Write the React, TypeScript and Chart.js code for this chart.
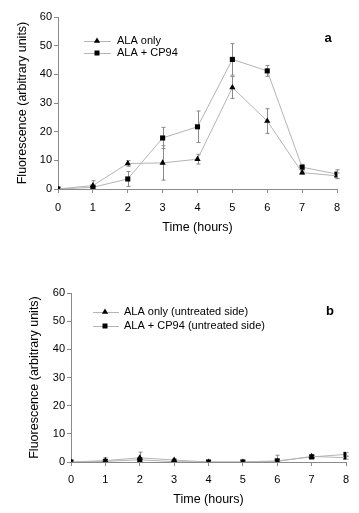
import React, { useEffect, useRef } from "react";
import { Chart, registerables } from "chart.js";

Chart.register(...registerables);

const hours = [0, 1, 2, 3, 4, 5, 6, 7, 8];

// Panel a
const alaOnly = [0, 1.2, 8.9, 9.1, 10.4, 35.4, 23.7, 5.7, 4.6];
const alaOnlyErr = [0, 1.7, 1.0, 6.0, 1.7, 3.8, 4.3, 0.5, 1.0];
const alaCp94 = [0, 0.6, 3.5, 17.8, 21.7, 45.2, 41.2, 7.6, 5.2];
const alaCp94Err = [0, 0.8, 2.6, 3.7, 5.5, 5.5, 1.9, 1.0, 1.5];

// Panel b
const alaOnlyUntreated = [0, 0.5, 1.5, 0.7, 0, 0, 0.2, 2.0, 1.5];
const alaOnlyUntreatedErr = [0, 1.0, 2.0, 0.5, 0, 0, 0.4, 0.5, 0.5];
const alaCp94Untreated = [0, 0.2, 0.8, 0.1, 0, 0, 0.4, 1.8, 2.7];
const alaCp94UntreatedErr = [0, 0.3, 0.8, 0.2, 0, 0, 2.0, 0.4, 0.6];

const yTicks = [0, 10, 20, 30, 40, 50, 60];
const labelsA = ["ALA only", "ALA + CP94"];
const labelsB = ["ALA only (untreated side)", "ALA + CP94 (untreated side)"];

const FONT = "'Liberation Sans', Arial, sans-serif";
const AXIS = "#8a8a8a";
const LINE = "#b4b4b4";

function drawMarker(ctx: CanvasRenderingContext2D, style: string, x: number, y: number) {
  ctx.save();
  ctx.fillStyle = "#000";
  ctx.beginPath();
  if (style === "triangle") {
    const r = 3.6;
    ctx.moveTo(x, y - r);
    ctx.lineTo(x + r * 0.866, y + r * 0.5);
    ctx.lineTo(x - r * 0.866, y + r * 0.5);
    ctx.closePath();
  } else {
    ctx.rect(x - 2.5, y - 2.5, 5, 5);
  }
  ctx.fill();
  ctx.restore();
}

type PanelCfg = {
  series: number[][];
  errs: number[][];
  legend: string[];
  letter: string;
  yAxisWidth: number;
  padRight: number;
  padTop: number;
  xAxisHeight: number;
  yTitlePad: number;
  xTitlePadBottom: number;
  tickPad: number;
  legendLine: [number, number, number, number];
  legendRows: [number, number];
  letterPos: [number, number];
  height: number;
};

function Panel({ cfg }: { cfg: PanelCfg }) {
  const ref = useRef<HTMLCanvasElement | null>(null);
  useEffect(() => {
    if (!ref.current) return;
    const styles = ["triangle", "rect"];
    const errPlugin = {
      id: "errbars",
      beforeDatasetsDraw(chart: any) {
        const ctx = chart.ctx;
        const xs = chart.scales.x;
        const ys = chart.scales.y;
        ctx.save();
        ctx.strokeStyle = AXIS;
        ctx.lineWidth = 1;
        cfg.series.forEach((s, si) => {
          s.forEach((v, i) => {
            const e = cfg.errs[si][i];
            if (!e) return;
            const x = Math.round(xs.getPixelForValue(hours[i])) + 0.5;
            const y1 = ys.getPixelForValue(Math.max(0, v - e));
            const y2 = ys.getPixelForValue(v + e);
            ctx.beginPath();
            ctx.moveTo(x, y1);
            ctx.lineTo(x, y2);
            ctx.moveTo(x - 2, y1);
            ctx.lineTo(x + 2, y1);
            ctx.moveTo(x - 2, y2);
            ctx.lineTo(x + 2, y2);
            ctx.stroke();
          });
        });
        ctx.restore();
      },
    };
    const legendPlugin = {
      id: "customLegend",
      afterDraw(chart: any) {
        const ctx = chart.ctx;
        const [x1, x2, xm, tx] = cfg.legendLine;
        ctx.save();
        cfg.legend.forEach((label, i) => {
          const y = cfg.legendRows[i];
          ctx.strokeStyle = LINE;
          ctx.lineWidth = 1;
          ctx.beginPath();
          ctx.moveTo(x1, y + 0.5);
          ctx.lineTo(x2, y + 0.5);
          ctx.stroke();
          drawMarker(ctx, styles[i], xm, y);
          ctx.fillStyle = "#000";
          ctx.font = `11px ${FONT}`;
          ctx.textBaseline = "middle";
          ctx.textAlign = "left";
          ctx.fillText(label, tx, y);
        });
        ctx.font = `bold 13px ${FONT}`;
        ctx.textAlign = "center";
        ctx.textBaseline = "middle";
        ctx.fillText(cfg.letter, cfg.letterPos[0], cfg.letterPos[1]);
        ctx.restore();
      },
    };
    const chart = new Chart(ref.current, {
      type: "line",
      data: {
        datasets: cfg.series.map((s, si) => ({
          label: cfg.legend[si],
          data: s.map((v, i) => ({ x: hours[i], y: v })),
          borderColor: LINE,
          borderWidth: 1,
          backgroundColor: "#000",
          pointBackgroundColor: "#000",
          pointBorderColor: "#000",
          pointBorderWidth: 0,
          pointStyle: styles[si] as any,
          pointRadius: 3.6,
          tension: 0,
          fill: false,
        })),
      },
      options: {
        responsive: false,
        animation: false,
        layout: { padding: { left: 0, right: cfg.padRight, top: cfg.padTop, bottom: 0 } },
        plugins: { legend: { display: false }, tooltip: { enabled: false } },
        scales: {
          x: {
            type: "linear",
            min: 0,
            max: 8,
            afterFit(scale: any) {
              scale.height = cfg.xAxisHeight;
            },
            ticks: {
              stepSize: 1,
              color: "#000",
              font: { family: FONT, size: 11 },
              padding: cfg.tickPad,
              maxRotation: 0,
            },
            grid: { drawOnChartArea: false, drawTicks: true, tickLength: 4, color: AXIS },
            border: { color: AXIS },
            title: {
              display: true,
              text: "Time (hours)",
              color: "#000",
              font: { family: FONT, size: 12.5 },
              padding: { top: 2, bottom: cfg.xTitlePadBottom },
            },
          },
          y: {
            type: "linear",
            min: 0,
            max: 60,
            afterFit(scale: any) {
              scale.width = cfg.yAxisWidth;
            },
            afterBuildTicks(scale: any) {
              scale.ticks = yTicks.map((v) => ({ value: v }));
            },
            ticks: {
              color: "#000",
              font: { family: FONT, size: 11 },
              padding: 2,
            },
            grid: { drawOnChartArea: false, drawTicks: true, tickLength: 4, color: AXIS },
            border: { color: AXIS },
            title: {
              display: true,
              text: "Fluorescence (arbitrary units)",
              color: "#000",
              font: { family: FONT, size: 12.5 },
              padding: { top: cfg.yTitlePad, bottom: 0 },
            },
          },
        },
      },
      plugins: [errPlugin, legendPlugin],
    });
    return () => chart.destroy();
  }, []);
  return <canvas ref={ref} width={359} height={cfg.height} style={{ display: "block", width: 359, height: cfg.height }} />;
}

const cfgA: PanelCfg = {
  series: [alaOnly, alaCp94],
  errs: [alaOnlyErr, alaCp94Err],
  legend: labelsA,
  letter: "a",
  yAxisWidth: 58,
  padRight: 22,
  padTop: 17,
  xAxisHeight: 67,
  yTitlePad: 15,
  xTitlePadBottom: 21,
  tickPad: 8,
  legendLine: [84, 111, 97, 117],
  legendRows: [41, 53],
  letterPos: [328, 38],
  height: 256,
};

const cfgB: PanelCfg = {
  series: [alaOnlyUntreated, alaCp94Untreated],
  errs: [alaOnlyUntreatedErr, alaCp94UntreatedErr],
  legend: labelsB,
  letter: "b",
  yAxisWidth: 71,
  padRight: 13,
  padTop: 37,
  xAxisHeight: 51,
  yTitlePad: 27,
  xTitlePadBottom: 6,
  tickPad: 7,
  legendLine: [93, 119, 105, 124],
  legendRows: [56, 70],
  letterPos: [330, 55],
  height: 257,
};

export default function App() {
  return (
    <div style={{ position: "absolute", left: 0, top: 0, width: 359, height: 513, background: "#fff" }}>
      <Panel cfg={cfgA} />
      <Panel cfg={cfgB} />
    </div>
  );
}
